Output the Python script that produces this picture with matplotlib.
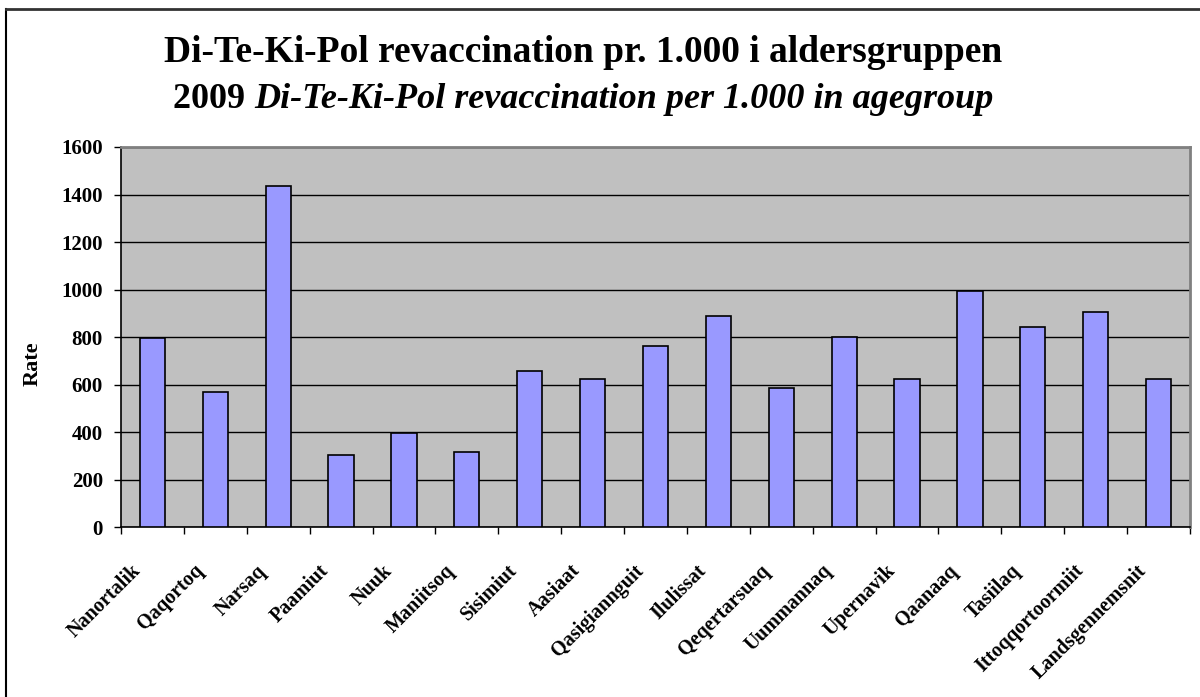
import numpy as np
import matplotlib.pyplot as plt
from matplotlib.lines import Line2D
from matplotlib.transforms import ScaledTranslation

# data
towns = ['Nanortalik', 'Qaqortoq', 'Narsaq', 'Paamiut', 'Nuuk', 'Maniitsoq',
         'Sisimiut', 'Aasiaat', 'Qasigiannguit', 'Ilulissat', 'Qeqertarsuaq',
         'Uummannaq', 'Upernavik', 'Qaanaaq', 'Tasiilaq', 'Ittoqqortoormiit',
         'Landsgennemsnit']
rates = [795, 568, 1437, 305, 399, 319, 658, 626, 762, 891, 586,
         801, 626, 994, 842, 907, 626]
yticks = [0, 200, 400, 600, 800, 1000, 1200, 1400, 1600]

title1 = 'Di-Te-Ki-Pol revaccination pr. 1.000 i aldersgruppen'
title2a = '2009 '
title2b = 'Di-Te-Ki-Pol revaccination per 1.000 in agegroup'

plt.rcParams['font.family'] = 'Liberation Serif'
plt.rcParams['font.weight'] = 'bold'

fig = plt.figure(figsize=(12, 6.97), dpi=100)
ax = fig.add_axes([0.1008, 0.2432, 0.8909, 0.5459])

x = np.arange(len(towns))
ax.bar(x, rates, width=0.4, color='#9999FF', edgecolor='black', linewidth=1.2, zorder=3)

ax.set_facecolor('#C0C0C0')
ax.set_xlim(-0.5, len(towns) - 0.5)
ax.set_ylim(0, 1600)
ax.set_yticks(yticks)
ax.set_yticklabels([str(v) for v in yticks], fontsize=15, fontweight='bold')
ax.yaxis.grid(True, color='black', linewidth=1, zorder=1)
ax.set_axisbelow(True)

# ticks sit between categories, labels under the bars
ax.set_xticks(np.arange(len(towns) + 1) - 0.5)
ax.set_xticklabels([])
ax.set_xticks(x, minor=True)
ax.set_xticklabels(towns, minor=True, rotation=45, ha='right', va='top',
                   rotation_mode='anchor', fontsize=14.5, fontweight='bold')
ax.tick_params(axis='x', which='minor', length=0, pad=24)
ax.tick_params(axis='x', which='major', direction='out', length=5, width=1)
ax.tick_params(axis='y', direction='out', length=5, width=1, pad=8)
shift = ScaledTranslation(-0.22, 0, fig.dpi_scale_trans)
for lbl in ax.get_xticklabels(minor=True):
    lbl.set_transform(lbl.get_transform() + shift)

for side in ['top', 'right']:
    ax.spines[side].set_color('#808080')
    ax.spines[side].set_linewidth(2)
for side in ['left', 'bottom']:
    ax.spines[side].set_color('black')
    ax.spines[side].set_linewidth(1.2)

ax.set_ylabel('Rate', fontsize=16, fontweight='bold')
ax.yaxis.set_label_coords(-0.073, 0.43)

# title lines
fig.text(583 / 1200, 1 - 53 / 697, title1, ha='center', va='center',
         fontsize=27, fontweight='bold')
r = fig.canvas.get_renderer()
ta = fig.text(0, 1 - 100 / 697, title2a, ha='left', va='center',
              fontsize=26, fontweight='bold')
tb = fig.text(0, 1 - 100 / 697, title2b, ha='left', va='center',
              fontsize=26, fontweight='bold', style='italic')
wa = ta.get_window_extent(r).width
wb = tb.get_window_extent(r).width
x0 = 583 - (wa + wb) / 2
ta.set_x(x0 / 1200)
tb.set_x((x0 + wa) / 1200)

# outer frame (left and top)
fig.add_artist(Line2D([6 / 1200, 6 / 1200], [0, 1 - 9 / 697], color='black', linewidth=1.5))
fig.add_artist(Line2D([6 / 1200, 1], [1 - 9 / 697, 1 - 9 / 697], color='#333333', linewidth=2))

fig.savefig('out.png', dpi=100)
